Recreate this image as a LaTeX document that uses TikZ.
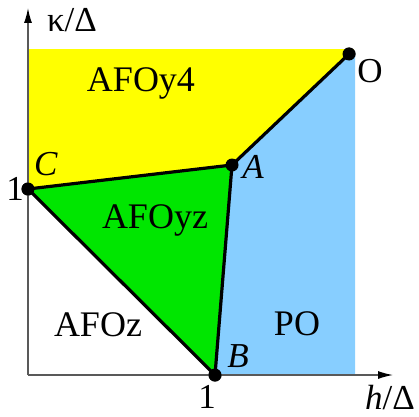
\documentclass[tikz,border=0pt]{standalone}
\usepackage{fontspec}
\setmainfont{Liberation Serif}
\usetikzlibrary{arrows.meta}
\definecolor{yel}{RGB}{255,255,0}
\definecolor{grn}{RGB}{0,230,0}
\definecolor{blu}{RGB}{135,206,255}
\tikzset{
  axis/.style={draw=black!65, line width=1.3pt, -{Latex[length=15pt,width=8pt,black]}},
  border/.style={draw=black, line width=3.2pt, line cap=round, line join=round},
  dot/.style={circle, fill=black, inner sep=0pt, minimum size=13pt},
  region/.style={anchor=base, inner sep=0pt, font=\fontsize{36}{40}\selectfont},
  plabel/.style={anchor=base, inner sep=0pt, font=\fontsize{35}{40}\selectfont}
}
\begin{document}
\begin{tikzpicture}[x=1pt,y=1pt]
\useasboundingbox (0,0) rectangle (419,416);
\coordinate (org) at (28,41);
\coordinate (ytip) at (28,408);
\coordinate (xtip) at (393,41);
\coordinate (ytop) at (28,367);
\coordinate (ycorner) at (354,367);
\coordinate (bcorner) at (355,361);
\coordinate (bbot) at (355,41);
\node[dot] (C) at (28,227) {};
\node[dot] (B) at (215,41) {};
\node[dot] (A) at (232,251) {};
\node[dot] (O) at (349,362) {};
% fills
\fill[yel] (ytop) -- (ycorner) -- (O.center) -- (A.center) -- (C.center) -- cycle;
\fill[blu] (B.center) -- (bbot) -- (bcorner) -- (O.center) -- (A.center) -- cycle;
\fill[grn] (C.center) -- (A.center) -- (B.center) -- cycle;
% axes
\draw[axis] (org) -- (ytip);
\draw[axis] (org) -- (xtip);
% borders
\draw[border] (C.center) -- (A.center) -- (O.center);
\draw[border] (C.center) -- (B.center) -- (A.center);
\node[dot] at (C) {};
\node[dot] at (B) {};
\node[dot] at (A) {};
\node[dot] at (O) {};
% labels
\node[region] (l1) at (141,325) {AFOy4};
\node[region] (l2) at (155,188) {AFOyz};
\node[region] (l3) at (98,80) {AFOz};
\node[region] (l4) at (297,81) {PO};
\node[plabel] (lO) at (370,334) {O};
\node[plabel] (lA) at (253,238) {\textit{A}};
\node[plabel] (lB) at (238,49) {\textit{B}};
\node[plabel] (lC) at (46,241) {\textit{C}};
\node[plabel] (l1y) at (15,216) {1};
\node[plabel] (l1x) at (207,8) {1};
\node[plabel] (lk) at (72,384) {κ/Δ};
\node[plabel] (lh) at (390,7) {\textit{h}/Δ};
\end{tikzpicture}
\end{document}
